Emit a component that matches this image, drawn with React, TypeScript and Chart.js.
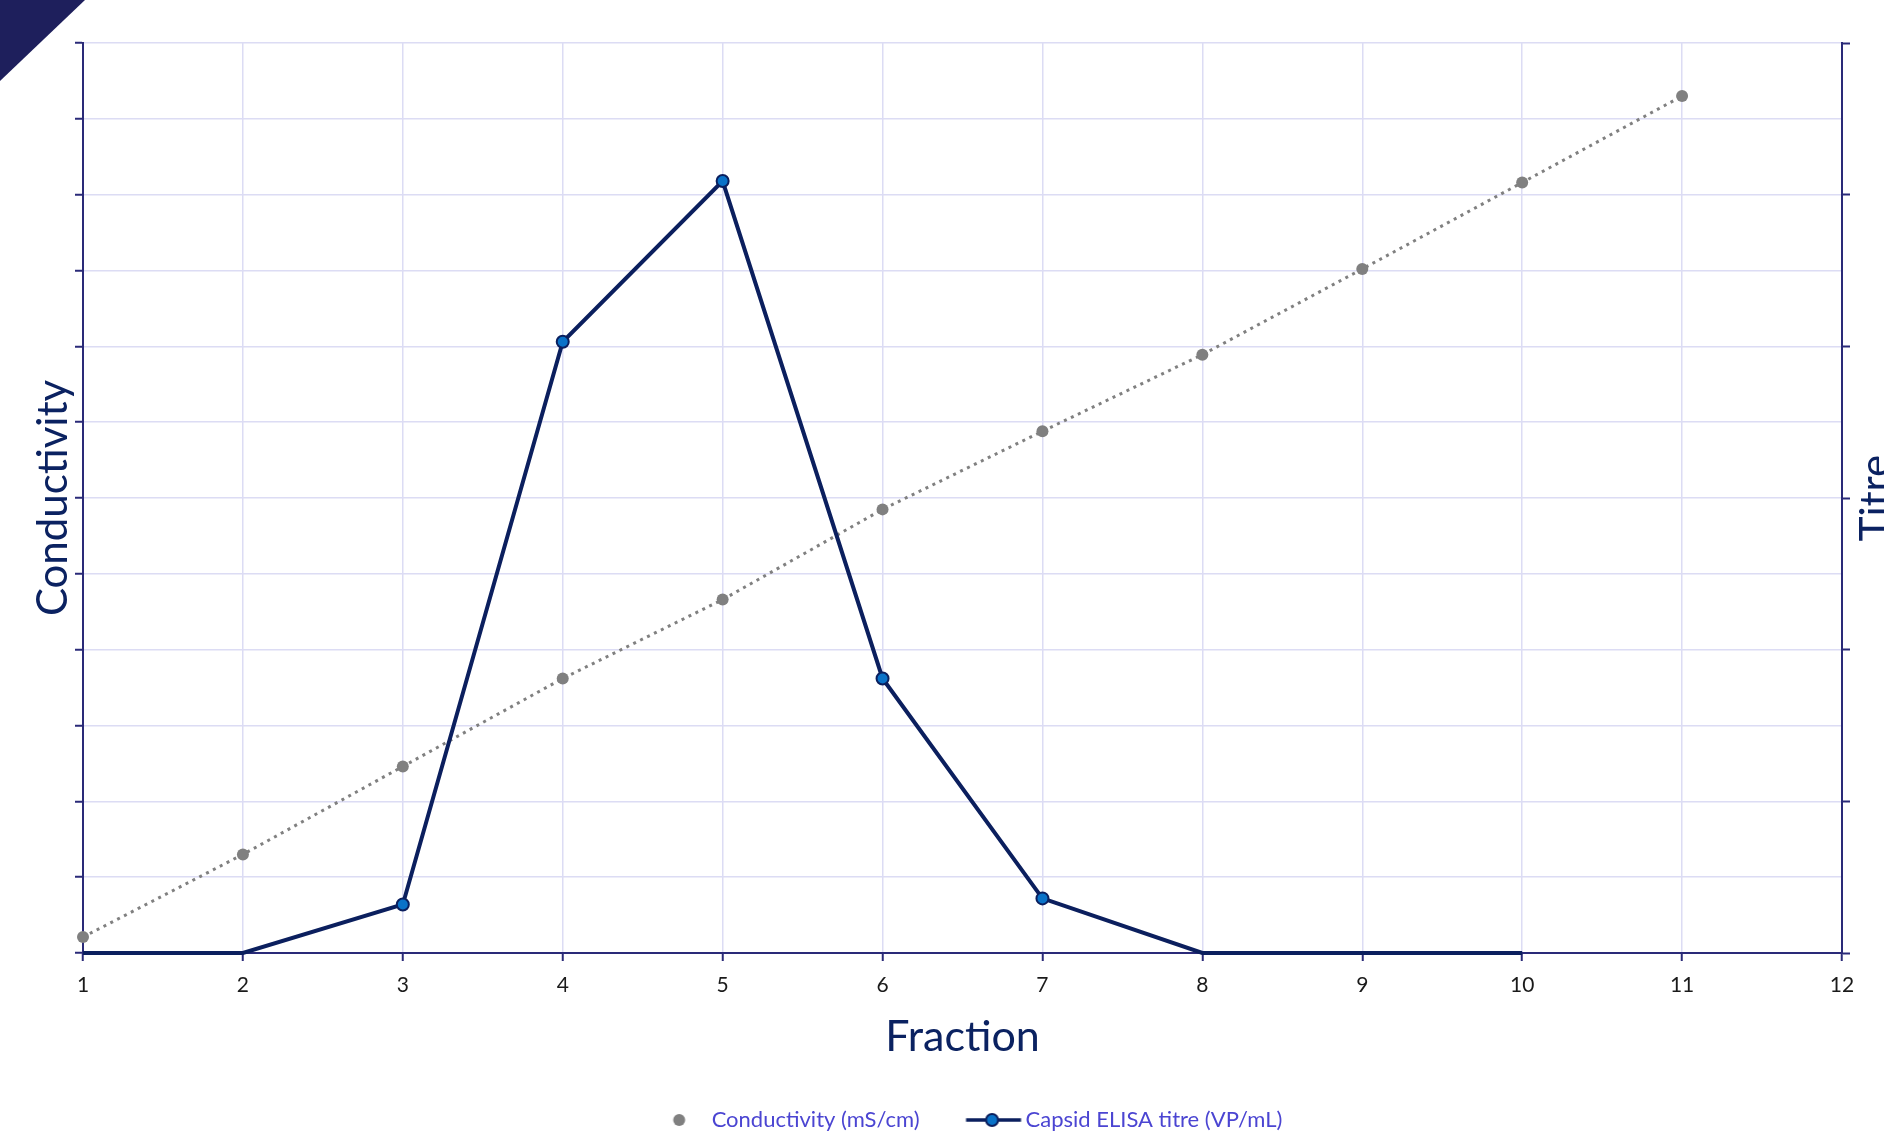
import React, { useEffect, useRef } from 'react';
import { Chart, registerables } from 'chart.js';

Chart.register(...registerables);

// ---- data ----
const fractions = [1, 2, 3, 4, 5, 6, 7, 8, 9, 10, 11];
const conductivity = [2.1, 13.0, 24.6, 36.2, 46.6, 58.5, 68.8, 78.9, 90.2, 101.6, 113.0];
const titreFractions = [1, 2, 3, 4, 5, 6, 7, 8, 9, 10];
const titre = [0, 0, 0.32, 4.03, 5.09, 1.81, 0.36, 0, 0, 0];
const seriesNames = ['Conductivity (mS/cm)', 'Capsid ELISA titre (VP/mL)'];
const xTitle = 'Fraction';
const yTitle = 'Conductivity';
const y1Title = 'Titre';

// ---- styles ----
const FONT = 'Lato';
const AXIS = '#2a2a78';
const GRID = '#dcdcf4';
const TITLE = '#0b2261';
const NAVY = '#0b1f5e';
const BLUE = '#0a72c8';
const GREY = '#808080';
const LEGEND_TEXT = '#4b45d2';

function makeLegendImages() {
  const a = document.createElement('canvas');
  a.width = 80; a.height = 20;
  const ca = a.getContext('2d')!;
  ca.fillStyle = GREY;
  ca.beginPath(); ca.arc(46.5, 10, 6, 0, Math.PI * 2); ca.fill();

  const b = document.createElement('canvas');
  b.width = 80; b.height = 20;
  const cb = b.getContext('2d')!;
  cb.strokeStyle = NAVY; cb.lineWidth = 3.5;
  cb.beginPath(); cb.moveTo(19.5, 10); cb.lineTo(74.5, 10); cb.stroke();
  cb.fillStyle = BLUE; cb.lineWidth = 2;
  cb.beginPath(); cb.arc(45.5, 10, 6, 0, Math.PI * 2); cb.fill(); cb.stroke();
  return [a, b];
}

const rightTitlePlugin = {
  id: 'rightTitle',
  afterDraw(chart: any) {
    const ctx = chart.ctx;
    const { top, bottom } = chart.chartArea;
    ctx.save();
    ctx.translate(chart.width + 6, (top + bottom) / 2);
    ctx.rotate(-Math.PI / 2);
    ctx.font = `42px ${FONT}`;
    ctx.fillStyle = TITLE;
    ctx.textAlign = 'center';
    ctx.textBaseline = 'alphabetic';
    ctx.fillText(y1Title, 0, 0);
    ctx.restore();
  },
};

export default function App() {
  const ref = useRef<HTMLCanvasElement>(null);
  useEffect(() => {
    const imgs = makeLegendImages();
    const chart = new Chart(ref.current!, {
      type: 'line',
      data: {
        datasets: [
          {
            label: seriesNames[0],
            data: fractions.map((f, i) => ({ x: f, y: conductivity[i] })),
            yAxisID: 'y',
            borderColor: GREY,
            borderWidth: 3,
            borderDash: [3, 4.7],
            pointRadius: 6,
            pointBackgroundColor: GREY,
            pointBorderColor: GREY,
            pointBorderWidth: 0,
            tension: 0,
            clip: false,
            order: 2,
          },
          {
            label: seriesNames[1],
            data: titreFractions.map((f, i) => ({ x: f, y: titre[i] })),
            yAxisID: 'y1',
            borderColor: NAVY,
            borderWidth: 4,
            pointRadius: titre.map((v) => (v > 0 ? 6 : 0)),
            pointBackgroundColor: BLUE,
            pointBorderColor: NAVY,
            pointBorderWidth: 2,
            tension: 0,
            clip: false,
            order: 1,
          },
        ],
      },
      options: {
        animation: false,
        responsive: true,
        maintainAspectRatio: false,
        layout: { padding: { top: 43, left: 43, right: 0, bottom: 0 } },
        scales: {
          x: {
            type: 'linear',
            position: 'bottom',
            min: 1,
            max: 12,
            ticks: { stepSize: 1, color: '#1a1a1a', font: { family: FONT, size: 21 }, padding: 12, maxRotation: 0, autoSkip: false },
            grid: { color: GRID, lineWidth: 1.5, tickColor: AXIS, tickLength: 8, tickWidth: 2 },
            border: { color: AXIS, width: 2 },
            title: { display: true, text: xTitle, color: TITLE, font: { family: FONT, size: 43 }, padding: { top: 0, bottom: 7 } },
            afterFit: (s: any) => { s.height = 117; },
          },
          y: {
            position: 'left',
            min: 0,
            max: 120,
            ticks: { stepSize: 10, display: false },
            grid: { color: GRID, lineWidth: 1.5, tickColor: AXIS, tickLength: 8, tickWidth: 2 },
            border: { color: AXIS, width: 2 },
            title: { display: true, text: yTitle, color: TITLE, font: { family: FONT, size: 42 }, padding: { top: -15, bottom: 0 } },
            afterFit: (s: any) => { s.width = 40; },
          },
          y1: {
            position: 'right',
            min: 0,
            max: 6,
            ticks: { stepSize: 1, display: false },
            grid: { drawOnChartArea: false, tickColor: AXIS, tickLength: 8, tickWidth: 2 },
            border: { color: AXIS, width: 2 },
            afterFit: (s: any) => { s.width = 42; },
          },
        },
        plugins: {
          tooltip: { enabled: false },
          legend: {
            position: 'bottom',
            labels: {
              usePointStyle: true,
              pointStyleWidth: 56,
              padding: 39,
              color: LEGEND_TEXT,
              font: { family: FONT, size: 22 },
              sort: (a: any, b: any) => a.datasetIndex - b.datasetIndex,
              generateLabels: (c: any) => {
                const items = (Chart.defaults.plugins.legend.labels as any).generateLabels(c);
                return items.map((it: any) => ({ ...it, pointStyle: imgs[it.datasetIndex] }));
              },
            },
          },
        },
      },
      plugins: [rightTitlePlugin],
    } as any);
    return () => chart.destroy();
  }, []);

  return (
    <div style={{ position: 'fixed', left: 0, top: 0, width: 1884, height: 1134, overflow: 'hidden', background: '#fff' }}>
      <div style={{ position: 'absolute', left: 0, top: 0, width: 1884, height: 1141 }}>
        <canvas ref={ref} />
      </div>
      <div
        style={{
          position: 'absolute', left: 0, top: 0, width: 85, height: 81,
          background: '#1e1f5c', clipPath: 'polygon(0 0, 100% 0, 0 100%)',
        }}
      />
    </div>
  );
}
